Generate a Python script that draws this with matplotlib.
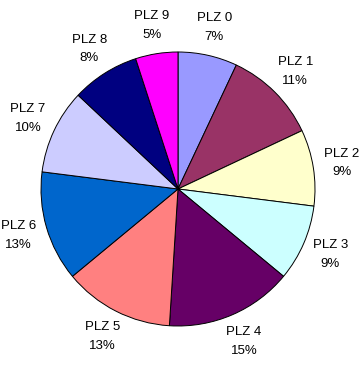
import matplotlib
matplotlib.use("Agg")
import matplotlib.pyplot as plt

categories = ["PLZ 0", "PLZ 1", "PLZ 2", "PLZ 3", "PLZ 4",
              "PLZ 5", "PLZ 6", "PLZ 7", "PLZ 8", "PLZ 9"]
values = [7, 11, 9, 9, 15, 13, 13, 10, 8, 5]
colors = ["#9999FF", "#993366", "#FFFFCC", "#CCFFFF", "#660066",
          "#FF8080", "#0066CC", "#CCCCFF", "#000080", "#FF00FF"]

plt.rcParams['font.family'] = ['Liberation Sans', 'DejaVu Sans']

W, H = 363, 374
fig = plt.figure(figsize=(W / 100, H / 100), dpi=100)
cx, cy, R = 178, 189, 137
ax = fig.add_axes([(cx - R) / W, (H - cy - R) / H, 2 * R / W, 2 * R / H])

total = sum(values)
labels = [f"{c}\n{round(v / total * 100)}%" for c, v in zip(categories, values)]

wedges, texts = ax.pie(values, colors=colors, startangle=90, counterclock=False,
                       labels=labels, labeldistance=1.21,
                       wedgeprops=dict(edgecolor="black", linewidth=0.7),
                       textprops=dict(fontsize=9.5, color="black", linespacing=1.75))
for t in texts:
    t.set_ha("center")
    t.set_va("center")

ax.set_xlim(-1, 1)
ax.set_ylim(-1, 1)
ax.set_aspect("equal")
ax.axis("off")

fig.savefig("out.png", dpi=100, facecolor="white")
